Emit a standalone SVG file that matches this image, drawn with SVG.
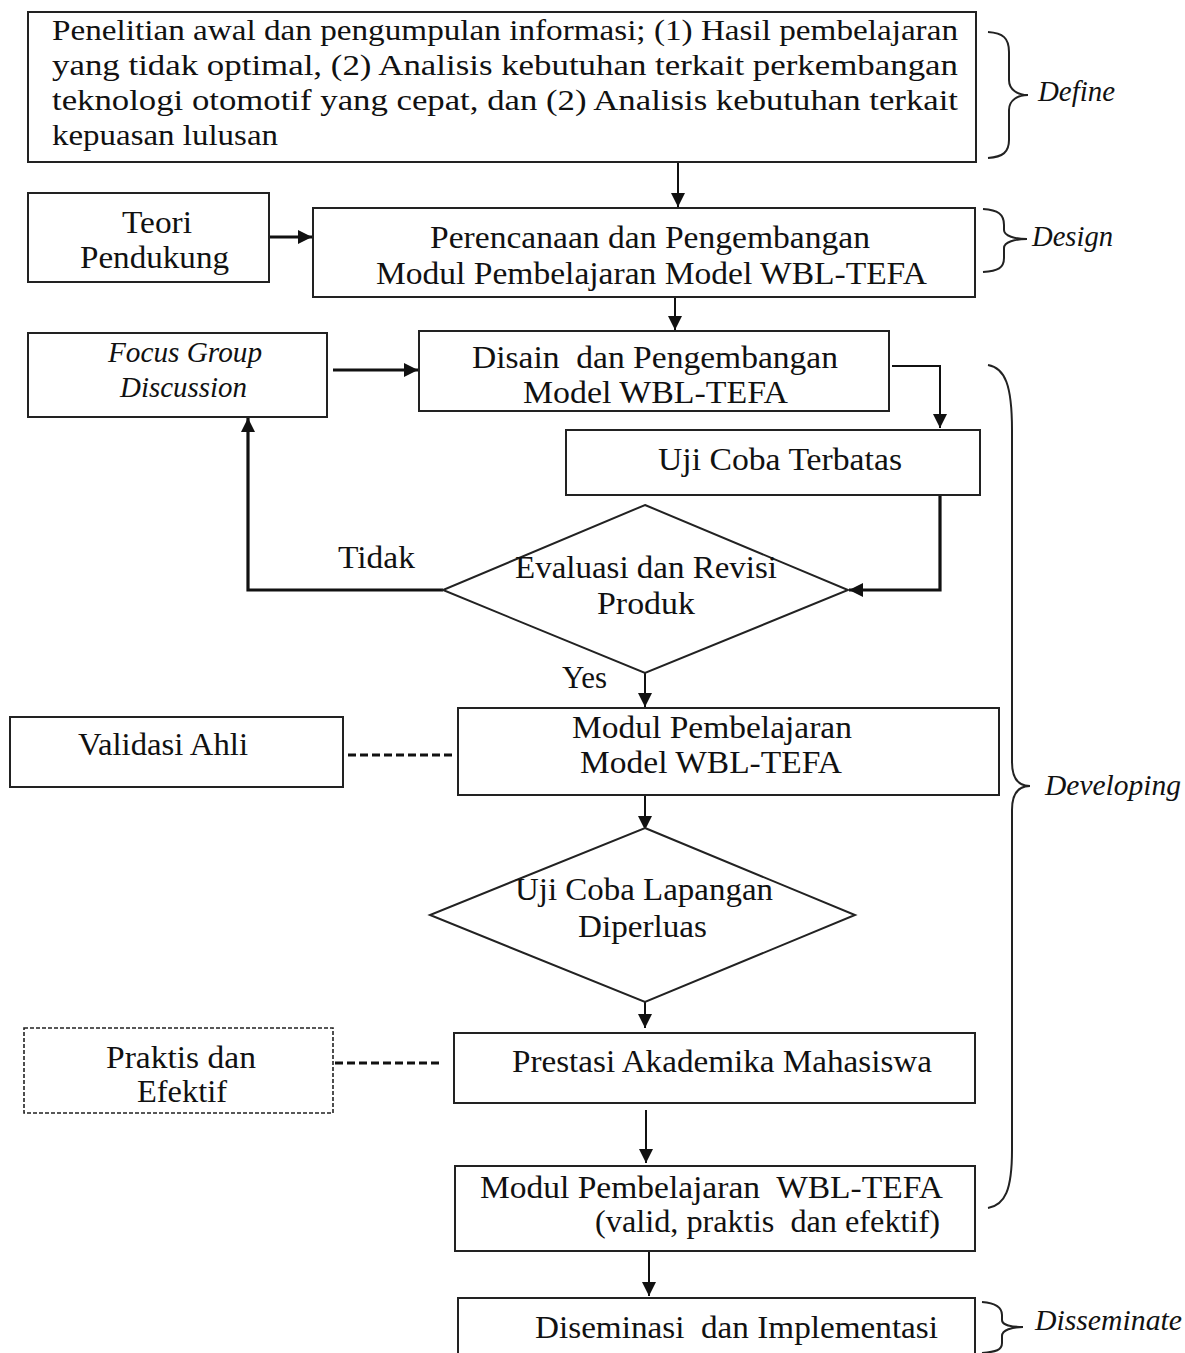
<svg xmlns="http://www.w3.org/2000/svg" width="1185" height="1353" viewBox="0 0 1185 1353">
<style>
text{font-family:"Liberation Serif","Times New Roman",serif;fill:#111;}
.t{font-size:31px;}
.s{font-size:29px;}
.i{font-size:30px;font-style:italic;}
.box{fill:#fff;stroke:#222;stroke-width:2;}
.dbox{fill:#fff;stroke:#222;stroke-width:1.6;stroke-dasharray:4 2;}
.ln{fill:none;stroke:#111;stroke-width:2;}
.thk{fill:none;stroke:#111;stroke-width:3.2;}
.dash{fill:none;stroke:#111;stroke-width:3;stroke-dasharray:8 4;}
.br{fill:none;stroke:#222;stroke-width:2;}
</style>
<defs>
<marker id="ah" markerUnits="userSpaceOnUse" markerWidth="14" markerHeight="14" refX="14" refY="7" orient="auto" viewBox="0 0 14 14">
<path d="M0,0 L14,7 L0,14 z" fill="#111"/>
</marker>
</defs>
<rect width="1185" height="1353" fill="#fff"/>

<g id="connectors">
<line class="ln" x1="678" y1="163" x2="678" y2="207" marker-end="url(#ah)"/>
<line class="thk" x1="269" y1="237" x2="312" y2="237" marker-end="url(#ah)"/>
<line class="ln" x1="675" y1="298" x2="675" y2="330" marker-end="url(#ah)"/>
<line class="thk" x1="333" y1="370" x2="418" y2="370" marker-end="url(#ah)"/>
<polyline class="ln" points="892,366 940,366 940,428" marker-end="url(#ah)"/>
<polyline class="thk" points="940,495 940,590 849,590" marker-end="url(#ah)"/>
<polyline class="thk" points="443,590 248,590 248,418" marker-end="url(#ah)"/>
<line class="ln" x1="645" y1="673" x2="645" y2="707" marker-end="url(#ah)"/>
<line class="dash" x1="348" y1="755" x2="456" y2="755"/>
<line class="ln" x1="645" y1="796" x2="645" y2="830" marker-end="url(#ah)"/>
<line class="ln" x1="645" y1="993" x2="645" y2="1028" marker-end="url(#ah)"/>
<line class="dash" x1="335" y1="1063" x2="442" y2="1063"/>
<line class="ln" x1="646" y1="1110" x2="646" y2="1163" marker-end="url(#ah)"/>
<line class="ln" x1="649" y1="1252" x2="649" y2="1296" marker-end="url(#ah)"/>
</g>

<g id="n-define">
<rect class="box" x="28" y="12" width="948" height="150"/>
<text class="s" x="52" y="40" textLength="906" lengthAdjust="spacingAndGlyphs">Penelitian awal dan pengumpulan informasi; (1) Hasil pembelajaran</text>
<text class="s" x="52" y="75" textLength="906" lengthAdjust="spacingAndGlyphs">yang tidak optimal, (2) Analisis kebutuhan terkait perkembangan</text>
<text class="s" x="52" y="110" textLength="906" lengthAdjust="spacingAndGlyphs">teknologi otomotif yang cepat, dan (2) Analisis kebutuhan terkait</text>
<text class="s" x="52" y="145" textLength="226" lengthAdjust="spacingAndGlyphs">kepuasan lulusan</text>
</g>

<g id="n-teori">
<rect class="box" x="28" y="193" width="241" height="89"/>
<text class="t" x="122" y="233" textLength="70" lengthAdjust="spacingAndGlyphs">Teori</text>
<text class="t" x="80" y="268" textLength="149" lengthAdjust="spacingAndGlyphs">Pendukung</text>
</g>

<g id="n-perencanaan">
<rect class="box" x="313" y="208" width="662" height="89"/>
<text class="t" x="430" y="248" textLength="440" lengthAdjust="spacingAndGlyphs">Perencanaan dan Pengembangan</text>
<text class="t" x="376" y="284" textLength="551" lengthAdjust="spacingAndGlyphs">Modul Pembelajaran Model WBL-TEFA</text>
</g>

<g id="n-fgd">
<rect class="box" x="28" y="333" width="299" height="84"/>
<text class="i" x="108" y="362" textLength="154" lengthAdjust="spacingAndGlyphs">Focus Group</text>
<text class="i" x="120" y="397" textLength="127" lengthAdjust="spacingAndGlyphs">Discussion</text>
</g>

<g id="n-disain">
<rect class="box" x="419" y="331" width="470" height="80"/>
<text class="t" x="472" y="368" textLength="366" lengthAdjust="spacingAndGlyphs" xml:space="preserve">Disain  dan Pengembangan</text>
<text class="t" x="523" y="403" textLength="265" lengthAdjust="spacingAndGlyphs">Model WBL-TEFA</text>
</g>

<g id="n-ujicoba">
<rect class="box" x="566" y="430" width="414" height="65"/>
<text class="t" x="658" y="470" textLength="244" lengthAdjust="spacingAndGlyphs">Uji Coba Terbatas</text>
</g>

<g id="n-evaluasi">
<polygon class="box" points="645,505 848,590 645,673 443,590"/>
<text class="t" x="515" y="578" textLength="262" lengthAdjust="spacingAndGlyphs">Evaluasi dan Revisi</text>
<text class="t" x="597" y="614" textLength="98" lengthAdjust="spacingAndGlyphs">Produk</text>
</g>

<g id="labels">
<text class="t" x="338" y="568" textLength="77" lengthAdjust="spacingAndGlyphs">Tidak</text>
<text class="t" x="562" y="688" textLength="45" lengthAdjust="spacingAndGlyphs">Yes</text>
</g>

<g id="n-validasi">
<rect class="box" x="10" y="717" width="333" height="70"/>
<text class="t" x="78" y="755" textLength="170" lengthAdjust="spacingAndGlyphs">Validasi Ahli</text>
</g>

<g id="n-modul">
<rect class="box" x="458" y="708" width="541" height="87"/>
<text class="t" x="572" y="738" textLength="280" lengthAdjust="spacingAndGlyphs">Modul Pembelajaran</text>
<text class="t" x="580" y="773" textLength="262" lengthAdjust="spacingAndGlyphs">Model WBL-TEFA</text>
</g>

<g id="n-lapangan">
<polygon class="box" points="645,828 855,915 645,1002 430,915"/>
<text class="t" x="515" y="900" textLength="258" lengthAdjust="spacingAndGlyphs">Uji Coba Lapangan</text>
<text class="t" x="578" y="937" textLength="129" lengthAdjust="spacingAndGlyphs">Diperluas</text>
</g>

<g id="n-praktis">
<rect class="dbox" x="24" y="1028" width="309" height="85"/>
<text class="t" x="106" y="1068" textLength="150" lengthAdjust="spacingAndGlyphs">Praktis dan</text>
<text class="t" x="137" y="1102" textLength="90" lengthAdjust="spacingAndGlyphs">Efektif</text>
</g>

<g id="n-prestasi">
<rect class="box" x="454" y="1033" width="521" height="70"/>
<text class="t" x="512" y="1072" textLength="420" lengthAdjust="spacingAndGlyphs">Prestasi Akademika Mahasiswa</text>
</g>

<g id="n-modulwbl">
<rect class="box" x="455" y="1166" width="520" height="85"/>
<text class="t" x="480" y="1198" textLength="463" lengthAdjust="spacingAndGlyphs" xml:space="preserve">Modul Pembelajaran  WBL-TEFA</text>
<text class="t" x="595" y="1232" textLength="345" lengthAdjust="spacingAndGlyphs" xml:space="preserve">(valid, praktis  dan efektif)</text>
</g>

<g id="n-diseminasi">
<rect class="box" x="458" y="1298" width="517" height="70"/>
<text class="t" x="535" y="1338" textLength="403" lengthAdjust="spacingAndGlyphs" xml:space="preserve">Diseminasi  dan Implementasi</text>
</g>

<g id="phases">
<path class="br" d="M988,32 C1003,33 1009,38 1009,52 L1009,80 C1009,90 1018,95 1028,95 C1018,95 1009,100 1009,110 L1009,140 C1009,152 1003,157 988,158"/>
<text class="i" x="1038" y="101" textLength="77" lengthAdjust="spacingAndGlyphs">Define</text>
<path class="br" d="M983,209 C998,210 1004,214 1004,225 L1004,230 C1004,236 1015,239 1027,239 C1015,239 1004,242 1004,248 L1004,258 C1004,268 998,271 983,272"/>
<text class="i" x="1032" y="246" textLength="81" lengthAdjust="spacingAndGlyphs">Design</text>
<path class="br" d="M988,365 C1005,368 1012,385 1012,430 L1012,762 C1012,780 1020,786 1030,786 C1020,786 1012,792 1012,810 L1012,1150 C1012,1190 1005,1205 988,1208"/>
<text class="i" x="1045" y="795" textLength="136" lengthAdjust="spacingAndGlyphs">Developing</text>
<path class="br" d="M982,1302 C996,1303 1002,1307 1002,1315 L1002,1320 C1002,1325 1012,1327 1023,1327 C1012,1327 1002,1330 1002,1336 L1002,1343 C1002,1350 996,1352 982,1353"/>
<text class="i" x="1035" y="1330" textLength="147" lengthAdjust="spacingAndGlyphs">Disseminate</text>
</g>
</svg>
